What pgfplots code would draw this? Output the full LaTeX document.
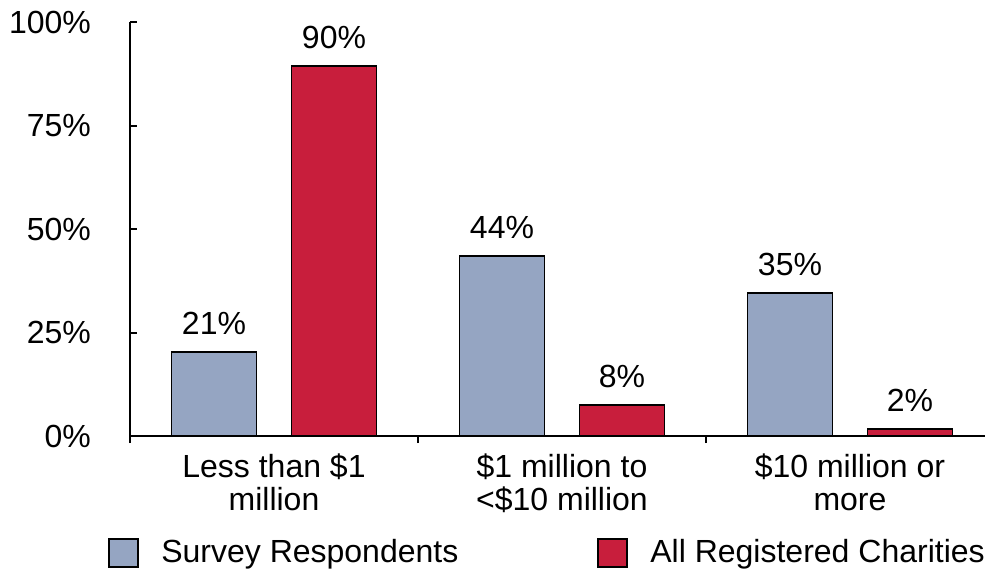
\documentclass[border=0pt]{standalone}
\usepackage{pgfplots}
\pgfplotsset{compat=1.18}
\usepackage{fontspec}
\setmainfont{Liberation Sans}
\definecolor{bluebar}{RGB}{149,165,194}
\definecolor{redbar}{RGB}{200,30,60}
\begin{document}
\begin{tikzpicture}
\begin{axis}[
  at={(0,0)}, anchor=south west,
  width=432pt, height=207pt, scale only axis,
  xmin=-0.5, xmax=2.5, ymin=0, ymax=100,
  axis x line=bottom, axis y line=left,
  axis line style={-, line width=1pt},
  ytick={0,25,50,75,100},
  yticklabels={0\%,25\%,50\%,75\%,100\%},
  y tick label style={xshift=-16pt},
  ytick align=inside,
  major tick length=3.5pt,
  every tick/.style={black, line width=1pt},
  xtick={-0.5,0.5,1.5,2.5}, xticklabels={},
  xtick align=outside,
  extra x ticks={0,1,2},
  extra x tick labels={Less than \$1\\million,\$1 million to\\<\$10 million,\$10 million or\\more},
  extra x tick style={major tick length=0pt, xticklabel style={align=center, yshift=-5.5pt}},
  tick label style={font=\fontsize{16}{16.5}\selectfont},
  ybar, bar width=42.5pt,
  nodes near coords,
  point meta=explicit symbolic,
  every node near coord/.append style={font=\fontsize{16}{16.5}\selectfont, yshift=5pt},
  legend style={at={(-0.0325,-0.23)}, anchor=north west, draw=none, fill=none,
    legend columns=2, font=\fontsize{16}{16.5}\selectfont,
    /tikz/every even column/.append style={column sep=67.5pt}},
  legend image code/.code={\draw[#1, line width=1pt] (-3.5pt,-7pt) rectangle (11pt,7pt);},
  clip=false,
]
\addplot[bar shift=-30pt, fill=bluebar, draw=black, line width=0.75pt]
  coordinates {(0,20.3) [21\%] (1,43.5) [44\%] (2,34.5) [35\%]};
\addplot[bar shift=30pt, fill=redbar, draw=black, line width=0.75pt]
  coordinates {(0,89.4) [90\%] (1,7.5) [8\%] (2,1.7) [2\%]};
\legend{\hspace{9pt}Survey Respondents,\hspace{9pt}All Registered Charities}
\end{axis}
\pgfresetboundingbox
\path[use as bounding box] (-65pt,-66.5pt) rectangle (427.5pt,218pt);
\end{tikzpicture}
\end{document}
